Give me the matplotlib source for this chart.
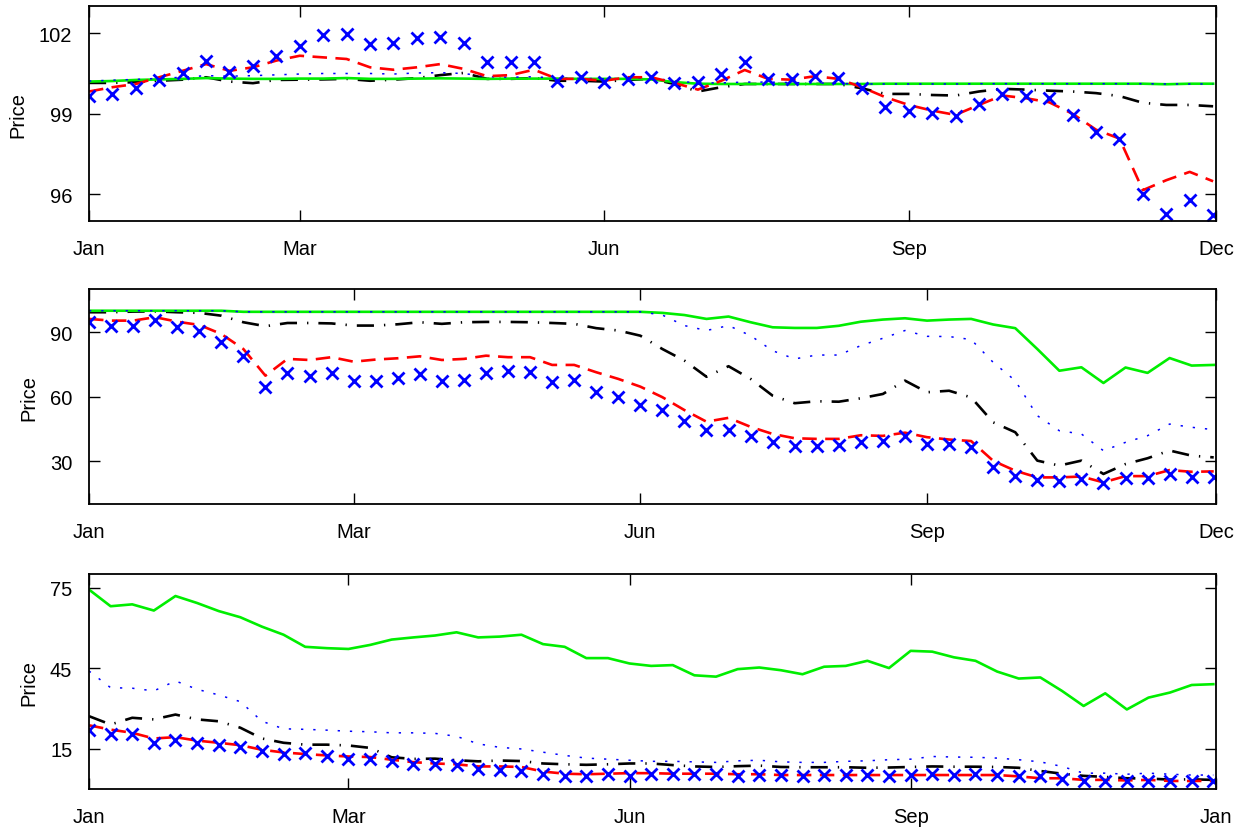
import matplotlib
matplotlib.use("Agg")
import matplotlib.pyplot as plt
import numpy as np

plt.rcParams['font.family'] = ['Liberation Sans', 'DejaVu Sans']

# ---- panel 1 ----
marks1 = [99.66, 99.72, 99.95, 100.27, 100.52, 100.95, 100.57, 100.77, 101.14, 101.53,
          101.94, 101.96, 101.59, 101.63, 101.81, 101.84, 101.63, 100.94, 100.94, 100.91,
          100.23, 100.36, 100.17, 100.30, 100.36, 100.14, 100.20, 100.49, 100.94, 100.30,
          100.30, 100.40, 100.33, 99.95, 99.27, 99.10, 99.04, 98.91, 99.37, 99.74,
          99.66, 99.58, 98.97, 98.32, 98.05, 96.00, 95.29, 95.81, 95.23]
dash1 = [99.83, 99.99, 100.11, 100.36, 100.60, 100.85, 100.60, 100.73, 100.98, 101.16,
         101.10, 101.04, 100.73, 100.64, 100.73, 100.85, 100.67, 100.40, 100.44, 100.64,
         100.30, 100.30, 100.23, 100.36, 100.36, 100.15, 99.90, 100.23, 100.63, 100.30,
         100.27, 100.40, 100.30, 99.99, 99.62, 99.33, 99.12, 98.96, 99.33, 99.68,
         99.58, 99.43, 99.00, 98.41, 98.08, 96.16, 96.53, 96.84, 96.49]
dashdot1 = [100.15, 100.15, 100.18, 100.23, 100.27, 100.36, 100.20, 100.14, 100.26, 100.27,
            100.28, 100.30, 100.23, 100.27, 100.33, 100.44, 100.52, 100.30, 100.30, 100.33,
            100.23, 100.23, 100.20, 100.26, 100.30, 100.11, 99.83, 99.99, 100.11, 100.11,
            100.11, 100.11, 100.11, 99.95, 99.74, 99.74, 99.70, 99.68, 99.83, 99.93,
            99.90, 99.86, 99.83, 99.77, 99.66, 99.41, 99.33, 99.33, 99.28]
dot1 = [100.22, 100.25, 100.28, 100.32, 100.36, 100.42, 100.40, 100.42, 100.45, 100.48,
        100.50, 100.50, 100.50, 100.48, 100.52, 100.53, 100.50, 100.38, 100.36, 100.38,
        100.32, 100.32, 100.30, 100.32, 100.34, 100.22, 100.15, 100.15, 100.18, 100.18,
        100.16, 100.15, 100.13, 100.11, 100.11, 100.11, 100.11, 100.11, 100.12, 100.12,
        100.12, 100.12, 100.12, 100.12, 100.12, 100.12, 100.11, 100.11, 100.11]
solid1 = [100.20, 100.22, 100.26, 100.28, 100.30, 100.33, 100.31, 100.30, 100.30, 100.31,
          100.31, 100.33, 100.30, 100.30, 100.31, 100.32, 100.31, 100.30, 100.31, 100.31,
          100.31, 100.30, 100.30, 100.30, 100.28, 100.18, 100.12, 100.11, 100.11, 100.11,
          100.11, 100.11, 100.11, 100.11, 100.12, 100.12, 100.12, 100.12, 100.12, 100.12,
          100.12, 100.12, 100.12, 100.12, 100.12, 100.12, 100.10, 100.12, 100.12]

# ---- panel 2 ----
marks2 = [94.65, 93.1, 93.1, 95.9, 92.3, 90.5, 85.3, 78.8, 64.4, 70.9,
          69.5, 71.1, 67.5, 67.2, 68.6, 70.6, 67.2, 68.0, 71.1, 71.9,
          71.4, 66.7, 67.8, 62.4, 59.8, 56.2, 54.0, 48.6, 44.7, 44.7,
          41.9, 39.1, 37.3, 37.3, 37.4, 39.1, 39.3, 41.7, 37.8, 37.8,
          36.5, 27.4, 23.3, 21.4, 20.9, 21.7, 19.7, 22.0, 22.0, 24.0,
          22.5, 22.5]
dash2 = [96.2, 95.4, 95.4, 97.0, 94.9, 93.4, 89.2, 82.2, 69.8, 77.6,
         77.1, 78.4, 76.3, 77.3, 77.9, 78.8, 77.1, 77.6, 79.1, 78.4,
         78.4, 74.8, 74.8, 71.4, 68.3, 64.7, 59.8, 53.8, 48.4, 50.2,
         46.0, 42.7, 40.7, 40.4, 40.4, 42.1, 41.8, 43.3, 41.2, 40.1,
         39.4, 30.2, 25.6, 22.5, 22.5, 22.9, 20.2, 23.1, 23.1, 25.9,
         25.1, 25.3]
dashdot2 = [99.3, 99.3, 99.6, 99.7, 99.3, 99.0, 97.7, 94.65, 92.8, 94.3,
            94.3, 94.1, 93.1, 93.1, 93.7, 94.65, 93.9, 94.65, 94.8, 94.8,
            94.65, 94.3, 93.9, 91.9, 90.8, 88.4, 82.2, 76.8, 69.3, 74.2,
            68.3, 60.5, 57.0, 57.9, 57.7, 59.3, 61.3, 67.5, 62.1, 62.8,
            59.7, 48.1, 43.5, 30.3, 28.0, 30.3, 24.1, 28.7, 31.4, 35.0,
            32.6, 31.8]
dot2 = [100.0, 100.0, 100.0, 100.0, 100.0, 100.0, 100.0, 99.5, 99.5, 99.5,
        99.5, 99.5, 99.5, 99.5, 99.5, 99.5, 99.5, 99.5, 99.5, 99.5,
        99.5, 99.5, 99.5, 99.5, 99.5, 99.5, 98.0, 93.1, 90.8, 93.1,
        88.4, 81.4, 77.6, 79.4, 79.4, 83.8, 87.2, 90.8, 88.1, 88.0,
        86.6, 76.0, 67.5, 51.2, 44.2, 42.7, 34.9, 38.8, 41.9, 47.3,
        45.8, 44.7]
solid2 = [100.0, 100.0, 100.0, 100.0, 100.0, 100.0, 100.0, 99.5, 99.5, 99.5,
          99.5, 99.5, 99.5, 99.5, 99.5, 99.5, 99.5, 99.5, 99.5, 99.5,
          99.5, 99.5, 99.5, 99.5, 99.5, 99.5, 99.0, 98.0, 96.2, 97.3,
          94.65, 92.3, 92.0, 92.0, 93.0, 94.9, 95.9, 96.5, 95.4, 95.9,
          96.2, 93.6, 91.9, 82.2, 72.1, 73.7, 66.4, 73.6, 71.1, 78.0,
          74.5, 74.8]

# ---- panel 3 ----
marks3 = [22.0, 20.6, 20.4, 17.2, 18.5, 17.2, 16.6, 15.6, 14.1, 13.2,
          13.5, 12.2, 11.4, 11.4, 10.6, 9.5, 9.3, 9.1, 7.6, 7.3,
          6.9, 5.8, 4.8, 4.8, 5.6, 5.1, 5.6, 5.6, 5.6, 5.6,
          5.1, 5.3, 5.3, 5.1, 5.3, 5.3, 5.3, 5.1, 5.3, 5.6,
          5.3, 5.6, 5.3, 5.1, 4.8, 3.9, 3.1, 3.1, 3.1, 3.1,
          2.9, 2.9, 2.9]
dash3 = [23.8, 22.2, 21.0, 18.9, 19.4, 18.1, 17.3, 16.4, 14.7, 13.7,
         13.1, 12.6, 12.2, 12.0, 11.0, 10.1, 9.6, 9.3, 8.5, 8.5,
         8.3, 6.6, 5.8, 5.6, 5.8, 6.0, 6.0, 5.8, 5.8, 5.8,
         5.6, 5.6, 5.3, 5.3, 5.3, 5.3, 5.3, 5.3, 5.3, 5.3,
         5.3, 5.3, 5.3, 4.8, 4.1, 4.1, 3.5, 3.5, 3.3, 3.5,
         3.1, 3.1, 3.1]
dashdot3 = [27.2, 24.1, 26.6, 26.0, 27.8, 26.0, 25.3, 22.9, 18.9, 17.3,
            16.6, 16.6, 16.3, 15.4, 11.9, 11.3, 11.4, 10.8, 10.4, 10.7,
            10.5, 9.6, 9.3, 9.1, 9.3, 9.6, 9.6, 9.0, 8.5, 8.3,
            8.6, 8.8, 8.3, 8.2, 8.2, 8.2, 8.0, 8.1, 8.3, 8.5,
            8.4, 8.4, 8.3, 8.0, 6.8, 5.8, 5.0, 4.6, 4.1, 4.0,
            3.6, 3.7, 3.5]
dot3 = [44.0, 37.8, 37.6, 36.6, 40.3, 37.2, 35.1, 32.6, 25.3, 22.5,
        22.3, 22.0, 21.6, 21.4, 21.0, 21.0, 20.8, 19.7, 16.9, 15.6,
        15.0, 13.8, 12.6, 11.6, 11.2, 10.8, 10.4, 10.4, 10.2, 10.0,
        10.6, 10.8, 10.2, 10.0, 10.0, 10.4, 10.6, 11.0, 11.2, 12.2,
        12.0, 11.9, 11.6, 11.0, 10.2, 8.5, 6.0, 6.0, 5.6, 6.0,
        5.6, 5.3, 5.3]
solid3 = [74.3, 68.1, 68.8, 66.5, 71.9, 69.3, 66.3, 64.0, 60.5, 57.5,
          53.0, 52.5, 52.2, 53.7, 55.7, 56.5, 57.2, 58.4, 56.5, 56.8,
          57.5, 54.0, 53.0, 48.8, 48.8, 46.8, 45.9, 46.2, 42.4, 41.9,
          44.7, 45.3, 44.3, 42.8, 45.6, 45.9, 47.8, 45.1, 51.5, 51.2,
          49.1, 47.8, 43.8, 41.2, 41.6, 36.6, 31.0, 35.7, 29.7, 34.1,
          36.0, 38.8, 39.1]

# tick positions (data index) and labels; last tick sits on the right edge
xticks1 = [0, 9, 22, 35, 48.12]
xticks2 = [0, 12, 25, 38, 51.1]
xticks3 = [0, 12, 25, 38, 52.12]
xlabels1 = ['Jan', 'Mar', 'Jun', 'Sep', 'Dec']
xlabels2 = ['Jan', 'Mar', 'Jun', 'Sep', 'Dec']
xlabels3 = ['Jan', 'Mar', 'Jun', 'Sep', 'Jan']
yticks1 = [96, 99, 102]
yticks2 = [30, 60, 90]
yticks3 = [15, 45, 75]

panels = [
    (marks1, dash1, dashdot1, dot1, solid1, xticks1, xlabels1, yticks1, (95, 103)),
    (marks2, dash2, dashdot2, dot2, solid2, xticks2, xlabels2, yticks2, (10, 110)),
    (marks3, dash3, dashdot3, dot3, solid3, xticks3, xlabels3, yticks3, (0, 80)),
]

fig = plt.figure(figsize=(12.48, 8.29), dpi=100)
bottoms = [0.7318, 0.3905, 0.0467]

for (mk, da, dd, do, so, xt, xl, yt, yl), b in zip(panels, bottoms):
    ax = fig.add_axes([0.0713, b, 0.9030, 0.2594])
    x = np.arange(len(mk))
    ax.plot(x, dd, color='black', lw=1.9, dashes=(6.5, 3.8, 0.5, 3.8))
    ax.plot(x, so, color='#00ee00', lw=1.9)
    ax.plot(x, do, color='blue', lw=1.1, dashes=(1.5, 6.5))
    ax.plot(x, da, color='red', lw=1.9, dashes=(5.5, 3.2))
    ax.plot(x, mk, ls='none', marker='x', ms=8.5, mew=2.0, color='blue')
    ax.set_xlim(0, xt[-1])
    ax.set_ylim(*yl)
    ax.set_xticks(xt)
    ax.set_xticklabels(xl)
    ax.set_yticks(yt)
    ax.tick_params(direction='in', length=8, width=1, top=True, right=True,
                   labelsize=14.5)
    ax.tick_params(axis='x', pad=13)
    ax.tick_params(axis='y', pad=12)
    for s in ax.spines.values():
        s.set_linewidth(1.3)
    ax.set_ylabel('Price', fontsize=14.5, labelpad=8)

fig.savefig('out.png', dpi=100)
